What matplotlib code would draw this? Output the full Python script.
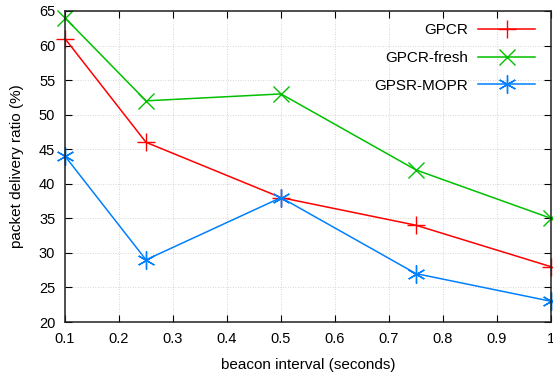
import matplotlib
matplotlib.use('Agg')
import matplotlib.pyplot as plt

# beacon interval (seconds)
beacon = [0.1, 0.25, 0.5, 0.75, 1.0]

# packet delivery ratio (%)
gpcr = [61, 46, 38, 34, 28]
gpcr_fresh = [64, 52, 53, 42, 35]
gpsr_mopr = [44, 29, 38, 27, 23]

plt.rcParams['font.family'] = ['Liberation Sans', 'DejaVu Sans']
plt.rcParams['font.size'] = 10

fig = plt.figure(figsize=(5.53, 3.76), dpi=100)
ax = fig.add_axes([65 / 553, 1 - 322 / 376, (551 - 65) / 553, (322 - 11) / 376])

ax.plot(beacon, gpcr, color='#ff0000', marker='+', markersize=13, mew=1, lw=1.1,
        label='GPCR', clip_on=False)
ax.plot(beacon, gpcr_fresh, color='#00c000', marker='x', markersize=11, mew=1, lw=1.1,
        label='GPCR-fresh', clip_on=False)
ax.plot(beacon, gpsr_mopr, color='#0080ff', marker=(6, 2, 0), markersize=13, mew=1, lw=1.1,
        label='GPSR-MOPR', clip_on=False)

ax.set_xlim(0.1, 1.0)
ax.set_ylim(20, 65)
ax.set_xticks([0.1, 0.2, 0.3, 0.4, 0.5, 0.6, 0.7, 0.8, 0.9, 1.0])
ax.set_xticklabels(['0.1', '0.2', '0.3', '0.4', '0.5', '0.6', '0.7', '0.8', '0.9', '1'])
ax.set_yticks(range(20, 66, 5))

ax.grid(True, color='#c8c8c8', linestyle=(0, (1, 2)), lw=0.6)
ax.tick_params(direction='in', length=5, top=True, right=True, width=0.8,
               labelsize=10.5)
ax.tick_params(axis='x', pad=7)
ax.tick_params(axis='y', pad=7)
for s in ax.spines.values():
    s.set_linewidth(1.1)
    s.set_color('#202020')

ax.set_xlabel('beacon interval (seconds)', fontsize=11, labelpad=9)
ax.set_ylabel('packet delivery ratio (%)', fontsize=11, labelpad=11)

ax.legend(loc='upper right', bbox_to_anchor=(0.992, 1.0), frameon=False,
          markerfirst=False, handlelength=3.7, labelspacing=0.9, borderaxespad=0.5,
          handletextpad=0.7, fontsize=11, borderpad=0.3)

fig.savefig('out.png', dpi=100)
